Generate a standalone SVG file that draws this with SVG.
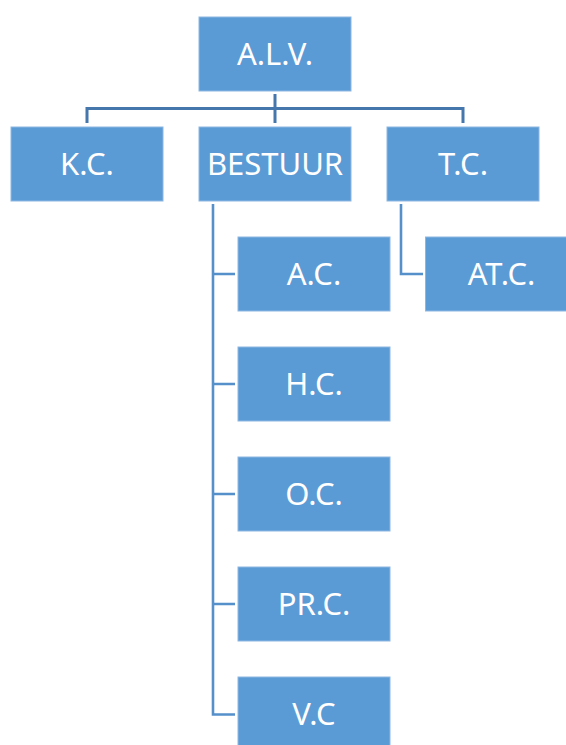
<svg xmlns="http://www.w3.org/2000/svg" width="566" height="745" viewBox="0 0 566 745">
<style>
.box{fill:#5B9BD5;stroke:#8DB7E2;stroke-width:1}
.lbl{font-family:"Noto Sans","Open Sans",sans-serif;font-size:31px;fill:#FFFFFF;text-anchor:middle}
.top{fill:none;stroke:#4677AC;stroke-width:3}
.sub{fill:none;stroke:#5590CB;stroke-width:2.6}
</style>
<rect width="566" height="745" fill="#FFFFFF"/>
<g id="connectors">
<path class="top" d="M275,94 V123 M87,123 V108.5 H463 V123"/>
<path class="sub" d="M213,204 V714.5 H235 M213,274 H235 M213,384 H235 M213,494 H235 M213,604 H235"/>
<path class="sub" d="M401,204 V274 H423"/>
</g>
<g id="alv"><rect class="box" x="199" y="17" width="152" height="74"/><text class="lbl" x="275" y="65">A.L.V.</text></g>
<g id="kc"><rect class="box" x="11" y="127" width="152" height="74"/><text class="lbl" x="87" y="175">K.C.</text></g>
<g id="bestuur"><rect class="box" x="199" y="127" width="152" height="74"/><text class="lbl" x="275" y="175">BESTUUR</text></g>
<g id="tc"><rect class="box" x="387" y="127" width="152" height="74"/><text class="lbl" x="463" y="175">T.C.</text></g>
<g id="ac"><rect class="box" x="238" y="237" width="152" height="74"/><text class="lbl" x="314" y="285">A.C.</text></g>
<g id="atc"><rect class="box" x="425.5" y="237" width="152" height="74"/><text class="lbl" x="501.5" y="285">AT.C.</text></g>
<g id="hc"><rect class="box" x="238" y="347" width="152" height="74"/><text class="lbl" x="314" y="395">H.C.</text></g>
<g id="oc"><rect class="box" x="238" y="457" width="152" height="74"/><text class="lbl" x="314" y="505">O.C.</text></g>
<g id="prc"><rect class="box" x="238" y="567" width="152" height="74"/><text class="lbl" x="314" y="615">PR.C.</text></g>
<g id="vc"><rect class="box" x="238" y="677" width="152" height="74"/><text class="lbl" x="314" y="725">V.C</text></g>
</svg>
